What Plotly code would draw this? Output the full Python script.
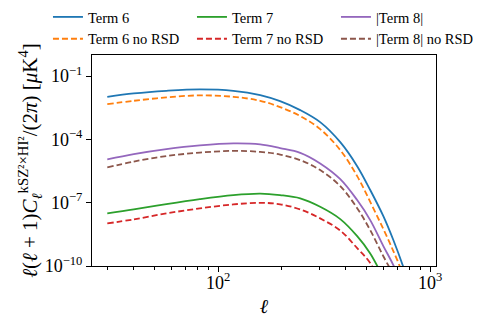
import plotly.graph_objects as go

# multipole grid
ell = [30, 40, 57, 82, 118, 158, 196, 244, 303, 377, 453, 522, 602, 671, 748, 825]

term6 = [1.04e-2, 1.51e-2, 2.01e-2, 2.34e-2, 2.01e-2, 1.26e-2, 6.5e-3, 2.45e-3,
         6.6e-4, 7.4e-5, 5.4e-6, 4.0e-7, 2.3e-8, 1.7e-9, 8.9e-11, 4.2e-12]
term6_norsd = [4.71e-3, 6.75e-3, 9.8e-3, 1.22e-2, 1.045e-2, 6.75e-3, 3.4e-3, 1.27e-3,
               3.08e-4, 3.11e-5, 1.82e-6, 1.1e-7, 5.6e-9, 5.1e-10, 3.7e-11, 2.4e-12]
term7 = [3.11e-8, 4.81e-8, 8.6e-8, 1.48e-7, 2.29e-7, 2.7e-7, 2.29e-7, 1.6e-7,
         6.4e-8, 1.67e-8, 2.6e-9, 3.95e-10, 2.7e-11, 2.4e-12]
term7_norsd = [1.04e-8, 1.62e-8, 3.11e-8, 5.37e-8, 8.3e-8, 9.9e-8, 8.4e-8, 4.81e-8,
               1.8e-8, 4.8e-9, 7.0e-10, 1.37e-10, 7.2e-12]
term8 = [1.13e-5, 2.01e-5, 3.47e-5, 5.2e-5, 6.46e-5, 5.8e-5, 3.87e-5, 2.32e-5,
         7.3e-6, 1.31e-6, 1.33e-7, 1.5e-8, 8.8e-10, 1.1e-10, 7.2e-12]
term8_norsd = [4.71e-6, 8.9e-6, 1.62e-5, 2.37e-5, 2.85e-5, 2.56e-5, 1.91e-5, 1.04e-5,
               3.51e-6, 6.1e-7, 5.5e-8, 5.0e-9, 2.9e-10, 3.7e-11, 2.4e-12]

FONT = "Liberation Serif"

# legend order row-wise so it reads like a 3-column legend
series = [
    ("Term 6", term6, "#1f77b4", "solid"),
    ("Term 7", term7, "#2ca02c", "solid"),
    ("|Term 8|", term8, "#9467bd", "solid"),
    ("Term 6 no RSD", term6_norsd, "#ff7f0e", "6px,3px"),
    ("Term 7 no RSD", term7_norsd, "#d62728", "6px,3px"),
    ("|Term 8| no RSD", term8_norsd, "#8c564b", "6px,3px"),
]

fig = go.Figure()
for name, vals, color, dash in series:
    fig.add_trace(go.Scatter(
        x=ell[:len(vals)], y=vals, name=name, mode="lines",
        line=dict(color=color, width=1.8, dash=dash, shape="spline", smoothing=1),
    ))

# page body adds an 8px margin, so the figure is 8px smaller and shifted
fig.update_layout(
    width=477, height=316,
    margin=dict(l=84, r=49, t=47, b=58, autoexpand=False),
    plot_bgcolor="white", paper_bgcolor="white",
    font=dict(family=FONT, size=18, color="black"),
    showlegend=True,
    legend=dict(
        orientation="h", x=-0.128, xanchor="left", y=1.256, yanchor="top",
        entrywidth=99, entrywidthmode="pixels",
        font=dict(family=FONT, size=14.5), bgcolor="rgba(0,0,0,0)",
        tracegroupgap=0, itemwidth=30,
    ),
)

fig.update_xaxes(
    type="log", range=[1.405, 3.028],
    title=dict(text="<i>ℓ</i>", standoff=7, font=dict(size=20)),
    tickvals=[100, 1000], ticktext=["10<sup>2</sup>", "10<sup>3</sup>"],
    ticks="outside", ticklen=5, tickcolor="black", ticklabelstandoff=-5,
    showline=True, linecolor="black", linewidth=1, mirror=True,
    showgrid=False, zeroline=False,
    minor=dict(ticks="outside", ticklen=3, tickcolor="black",
               tickvals=[30, 40, 50, 60, 70, 80, 90, 200, 300, 400, 500, 600, 700, 800, 900]),
)
fig.update_yaxes(
    type="log", range=[-10, 0],
    title=dict(text="<i>ℓ</i>(<i>ℓ</i> + 1)<i>C</i><sub><i>ℓ</i></sub><sup>kSZ²×HI²</sup>/(2<i>π</i>) [<i>μ</i>K<sup>4</sup>]",
               standoff=0, font=dict(size=21)),
    tickvals=[1e-10, 1e-7, 1e-4, 1e-1],
    ticktext=["10<sup>−10</sup>", "10<sup>−7</sup>", "10<sup>−4</sup>", "10<sup>−1</sup>"],
    ticks="outside", ticklen=5, tickcolor="black",
    showline=True, linecolor="black", linewidth=1, mirror=True,
    showgrid=False, zeroline=False,
)

fig.write_html("out.html")
